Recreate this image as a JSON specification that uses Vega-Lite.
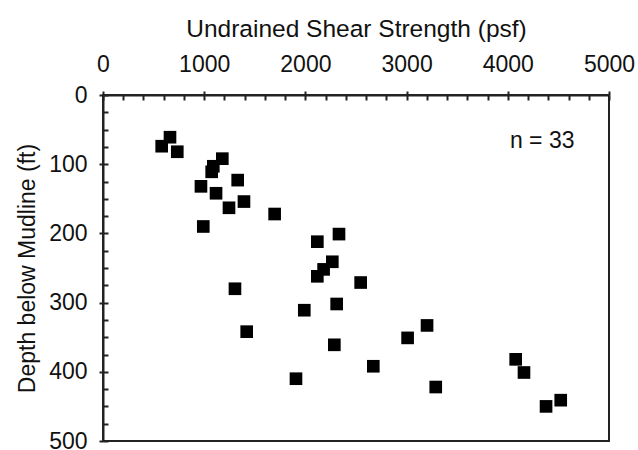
{
  "$schema": "https://vega.github.io/schema/vega-lite/v6.json",
  "width": 506,
  "height": 346,
  "autosize": "none",
  "padding": {"left": 103, "top": 95, "right": 29, "bottom": 9},
  "background": "white",
  "config": {
    "font": "Liberation Sans",
    "view": {"stroke": "#222", "strokeWidth": 2},
    "axis": {"domainColor": "#222", "domainWidth": 2, "tickColor": "#222", "tickWidth": 2, "grid": false, "labelColor": "#111", "titleColor": "#111", "labelFont": "Liberation Sans", "titleFont": "Liberation Sans", "titleFontWeight": "normal"}
  },
  "datasets": {
    "pts": [
      {"su": 662, "depth": 61}, {"su": 580, "depth": 74}, {"su": 734, "depth": 82},
      {"su": 1179, "depth": 92}, {"su": 1090, "depth": 103}, {"su": 1074, "depth": 111},
      {"su": 1331, "depth": 123}, {"su": 968, "depth": 132}, {"su": 1117, "depth": 142},
      {"su": 1393, "depth": 154}, {"su": 1245, "depth": 163}, {"su": 1696, "depth": 172},
      {"su": 991, "depth": 190}, {"su": 2118, "depth": 212}, {"su": 2332, "depth": 201},
      {"su": 2266, "depth": 241}, {"su": 2180, "depth": 252}, {"su": 2118, "depth": 262},
      {"su": 2546, "depth": 271}, {"su": 1304, "depth": 280}, {"su": 2309, "depth": 302},
      {"su": 1989, "depth": 311}, {"su": 1420, "depth": 342}, {"su": 2286, "depth": 361},
      {"su": 2671, "depth": 392}, {"su": 1907, "depth": 410}, {"su": 3202, "depth": 333},
      {"su": 3010, "depth": 351}, {"su": 3288, "depth": 422}, {"su": 4078, "depth": 382},
      {"su": 4160, "depth": 401}, {"su": 4523, "depth": 441}, {"su": 4378, "depth": 450}
    ],
    "note": [{"su": 4340, "depth": 77, "label": "n = 33"}]
  },
  "resolve": {"axis": {"x": "independent", "y": "independent"}},
  "layer": [
    {
      "data": {"name": "pts"},
      "mark": {"type": "square", "size": 0, "opacity": 0},
      "encoding": {
        "x": {"field": "su", "type": "quantitative", "scale": {"domain": [0, 5000], "nice": false, "zero": false},
          "axis": {"orient": "top", "values": [0,200,400,600,800,1000,1200,1400,1600,1800,2000,2200,2400,2600,2800,3000,3200,3400,3600,3800,4000,4200,4400,4600,4800,5000], "tickSize": -5, "labels": false, "domain": false, "title": null}},
        "y": {"field": "depth", "type": "quantitative", "scale": {"domain": [0, 500], "reverse": true, "nice": false, "zero": false},
          "axis": {"orient": "left", "values": [0,25,50,75,100,125,150,175,200,225,250,275,300,325,350,375,400,425,450,475,500], "tickSize": -5, "labels": false, "domain": false, "title": null}}
      }
    },
    {
      "data": {"name": "pts"},
      "mark": {"type": "square", "size": 160, "filled": true, "color": "#000", "opacity": 1},
      "encoding": {
        "x": {"field": "su", "type": "quantitative", "scale": {"domain": [0, 5000], "nice": false, "zero": false},
          "axis": {"orient": "top", "values": [0, 1000, 2000, 3000, 4000, 5000], "format": "d", "tickSize": 4, "labelFontSize": 23, "labelBaseline": "alphabetic", "labelPadding": 20, "labelFlush": false,
            "title": "Undrained Shear Strength (psf)", "titleFontSize": 24.5, "titlePadding": 12}},
        "y": {"field": "depth", "type": "quantitative", "scale": {"domain": [0, 500], "reverse": true, "nice": false, "zero": false},
          "axis": {"orient": "left", "values": [0, 100, 200, 300, 400, 500], "format": "d", "tickSize": 4, "labelFontSize": 23, "labelPadding": 12, "labelFlush": false,
            "title": "Depth below Mudline (ft)", "titleFontSize": 23, "titlePadding": 9}}
      }
    },
    {
      "data": {"name": "note"},
      "mark": {"type": "text", "fontSize": 23, "align": "center", "baseline": "alphabetic", "color": "#111", "font": "Liberation Sans"},
      "encoding": {
        "x": {"field": "su", "type": "quantitative", "axis": null},
        "y": {"field": "depth", "type": "quantitative", "axis": null},
        "text": {"field": "label"}
      }
    }
  ]
}
